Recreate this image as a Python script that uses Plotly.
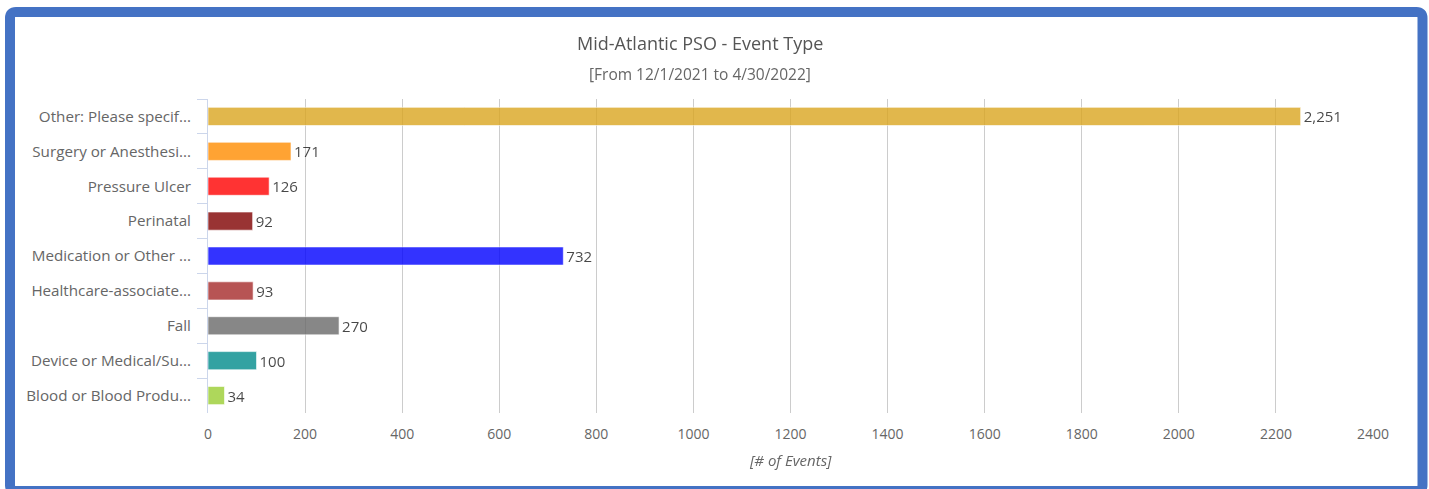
import plotly.graph_objects as go

categories = [
    "Other: Please specif...",
    "Surgery or Anesthesi...",
    "Pressure Ulcer",
    "Perinatal",
    "Medication or Other ...",
    "Healthcare-associate...",
    "Fall",
    "Device or Medical/Su...",
    "Blood or Blood Produ...",
]
values = [2251, 171, 126, 92, 732, 93, 270, 100, 34]
colors = ["goldenrod", "darkorange", "red", "maroon", "blue", "brown",
          "dimgray", "darkcyan", "yellowgreen"]
x_ticks = [0, 200, 400, 600, 800, 1000, 1200, 1400, 1600, 1800, 2000, 2200, 2400]
title = "Mid-Atlantic PSO - Event Type"
subtitle = "[From 12/1/2021 to 4/30/2022]"
x_title = "[# of Events]"

W, H = 1429, 489
L, R, T, B = 208, 1373, 99, 413
FONT = "Segoe UI, Open Sans, sans-serif"


def px(x):
    return (x - L) / (R - L)


def py(y):
    return (B - y) / (B - T)


fig = go.Figure()
fig.add_trace(go.Bar(
    y=categories,
    x=values,
    orientation="h",
    width=0.52,
    marker=dict(color=colors, line=dict(color="rgba(255,255,255,0.6)", width=1)),
    opacity=0.8,
    text=[f"{v:,}" for v in values],
    textposition="outside",
    constraintext="none",
    textfont=dict(family=FONT, size=15, color="#1a1a1a"),
    cliponaxis=False,
    hoverinfo="x+y",
))

# border (rounded rectangle) in paper coords
x0, x1, y0, y1, r = 10, 1422.5, 12, 491, 6
path = (
    f"M {px(x0 + r)},{py(y0)} L {px(x1 - r)},{py(y0)} "
    f"Q {px(x1)},{py(y0)} {px(x1)},{py(y0 + r)} "
    f"L {px(x1)},{py(y1 - r)} Q {px(x1)},{py(y1)} {px(x1 - r)},{py(y1)} "
    f"L {px(x0 + r)},{py(y1)} Q {px(x0)},{py(y1)} {px(x0)},{py(y1 - r)} "
    f"L {px(x0)},{py(y0 + r)} Q {px(x0)},{py(y0)} {px(x0 + r)},{py(y0)} Z"
)
fig.add_shape(type="path", path=path, xref="paper", yref="paper",
              line=dict(color="#4472C4", width=10), fillcolor="rgba(0,0,0,0)",
              layer="above")

fig.add_annotation(text=title, xref="paper", yref="paper", x=px(700), y=py(43),
                   xanchor="center", yanchor="middle", showarrow=False,
                   font=dict(family=FONT, size=18, color="#555"))
fig.add_annotation(text=subtitle, xref="paper", yref="paper", x=px(700), y=py(74),
                   xanchor="center", yanchor="middle", showarrow=False,
                   font=dict(family=FONT, size=15.5, color="#666"))
fig.add_annotation(text="<i>" + x_title + "</i>", xref="paper", yref="paper",
                   x=0.5, y=py(460), xanchor="center", yanchor="middle",
                   showarrow=False, font=dict(family=FONT, size=15, color="#666"))

fig.update_layout(
    width=W, height=H,
    margin=dict(l=L, r=W - R, t=T, b=H - B, pad=0),
    paper_bgcolor="white", plot_bgcolor="white",
    showlegend=False,
    font=dict(family=FONT, color="#666"),
    bargap=0.48,
)
fig.update_xaxes(
    range=[0, 2400], tickvals=x_ticks, ticktext=[str(t) for t in x_ticks],
    showgrid=True, gridcolor="#cccccc", gridwidth=1, zeroline=False,
    showline=False, ticks="", tickfont=dict(family=FONT, size=14, color="#666"),
    ticklabelstandoff=11,
)
fig.update_yaxes(
    autorange="reversed", type="category", showgrid=False, zeroline=False,
    showline=True, linecolor="#ccd6eb", linewidth=1,
    ticks="outside", tickson="boundaries", ticklen=10, tickcolor="#ccd6eb",
    tickfont=dict(family=FONT, size=15.2, color="#666"), ticklabelstandoff=13,
)

fig.write_html("out.html")
